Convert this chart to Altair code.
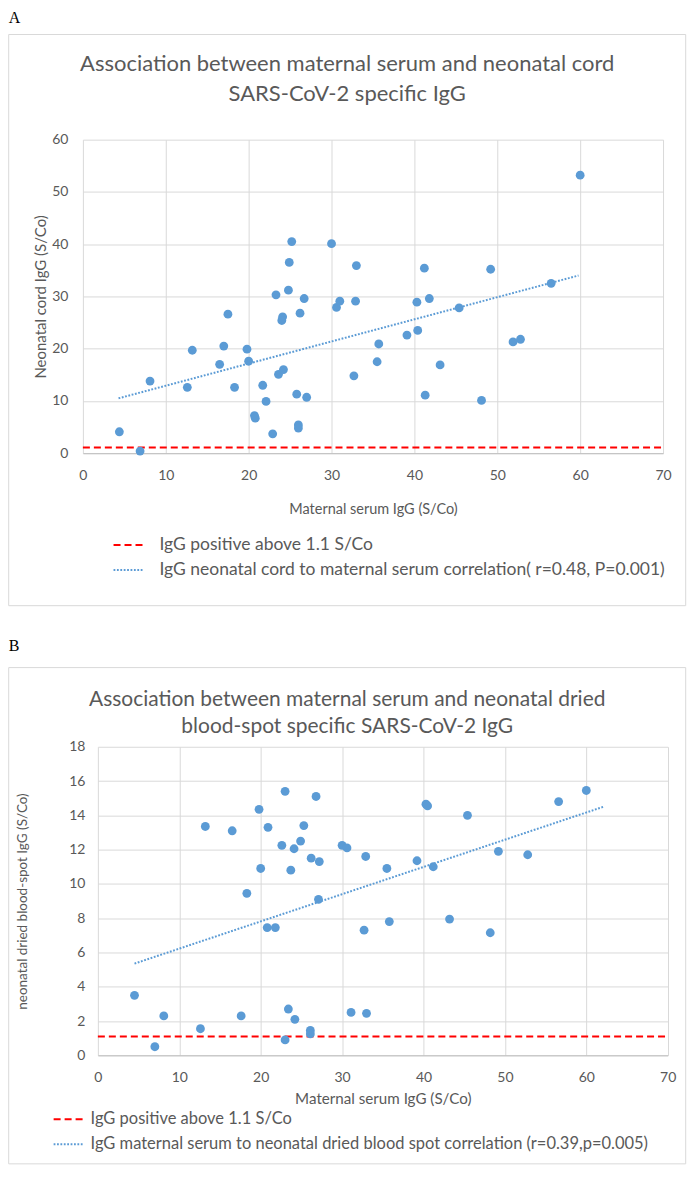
import altair as alt
import pandas as pd

# ---------------- data ----------------
x_ticks = [0, 10, 20, 30, 40, 50, 60, 70]
a_y_ticks = [0, 10, 20, 30, 40, 50, 60]
b_y_ticks = [0, 2, 4, 6, 8, 10, 12, 14, 16, 18]

a_maternal = [4.4, 6.9, 8.1, 12.6, 13.2, 16.5, 17.0, 17.5, 18.3, 19.8,
              20.0, 20.7, 20.8, 21.7, 22.1, 22.9, 23.3, 23.6, 24.2, 24.1,
              24.0, 24.8, 24.9, 25.2, 25.8, 26.0, 26.0, 26.2, 26.7, 27.0,
              30.0, 30.6, 31.0, 32.7, 32.9, 33.0, 35.5, 35.7, 39.1, 40.3,
              40.4, 41.2, 41.3, 41.8, 43.1, 45.4, 48.1, 49.2, 51.9, 52.8,
              56.5, 60.0]
a_cord = [4.1, 0.4, 13.8, 12.6, 19.7, 17.0, 20.5, 26.6, 12.6, 19.9,
          17.6, 7.2, 6.7, 13.0, 9.9, 3.7, 30.3, 15.1, 16.0, 26.1,
          25.4, 31.2, 36.5, 40.5, 11.3, 5.4, 4.8, 26.8, 29.6, 10.7,
          40.1, 27.9, 29.1, 14.8, 29.1, 35.9, 17.5, 20.9, 22.6, 28.9,
          23.5, 35.4, 11.1, 29.6, 16.9, 27.8, 10.1, 35.2, 21.3, 21.8,
          32.5, 53.2]
a_trend_x = [4.3, 59.8]
a_trend_y = [10.5, 34.0]

b_maternal = [4.5, 7.0, 8.1, 12.6, 13.2, 16.5, 17.6, 18.3, 19.8, 20.0,
              20.8, 20.9, 21.8, 22.6, 23.0, 23.0, 23.4, 23.7, 24.1, 24.2,
              24.9, 25.3, 26.1, 26.1, 26.2, 26.8, 27.1, 27.2, 30.0, 30.6,
              31.1, 32.7, 32.9, 33.0, 35.5, 35.8, 39.2, 40.3, 40.5, 41.2,
              43.2, 45.4, 48.2, 49.2, 52.8, 56.6, 60.0]
b_dbs = [3.5, 0.5, 2.3, 1.55, 13.35, 13.1, 2.3, 9.45, 14.35, 10.9,
         7.45, 13.3, 7.45, 12.25, 15.4, 0.9, 2.7, 10.8, 12.05, 2.1,
         12.5, 13.4, 1.45, 1.25, 11.5, 15.1, 9.1, 11.3, 12.25, 12.1,
         2.5, 7.3, 11.6, 2.45, 10.9, 7.8, 11.35, 14.65, 14.55, 11.0,
         7.95, 14.0, 7.15, 11.9, 11.7, 14.8, 15.45]
b_trend_x = [4.5, 62.1]
b_trend_y = [5.35, 14.5]

threshold = 1.1
x_range = [0, 70]

a_title = ["Association between maternal serum and neonatal cord",
           "SARS-CoV-2 specific IgG"]
b_title = ["Association between maternal serum and neonatal dried",
           "blood-spot specific SARS-CoV-2 IgG"]
a_legend = ["IgG positive above 1.1 S/Co",
            "IgG neonatal cord to maternal serum correlation( r=0.48, P=0.001)"]
b_legend = ["IgG positive above 1.1  S/Co",
            "IgG maternal serum to neonatal dried blood spot correlation (r=0.39,p=0.005)"]
x_title = "Maternal serum IgG (S/Co)"
a_y_title = "Neonatal cord IgG (S/Co)"
b_y_title = "neonatal dried blood-spot IgG (S/Co)"

# ---------------- styling ----------------
FONT = "Lato"
TXT = "#595959"
GRID = "#D9D9D9"
BLUE = "#5B9BD5"
RED = "#FF0000"


def one():
    return alt.Data(values=[{}])


def panel(letter, title_lines, title_size, mx, my, tx, ty, labels,
          ytitle, y_ticks, g):
    W, H = g["W"], g["H"]
    pts = pd.DataFrame({"m": mx, "v": my})
    lines = pd.DataFrame({
        "m": x_range + tx,
        "v": [threshold, threshold] + ty,
        "s": [labels[0]] * 2 + [labels[1]] * 2,
    })
    xs = alt.Scale(domain=x_range, nice=False, zero=False, range=g["xr"])
    ys = alt.Scale(domain=[y_ticks[0], y_ticks[-1]], nice=False)
    xaxis = alt.Axis(values=x_ticks, title=x_title, grid=True,
                     labelFontSize=g["tick_fs"], titleFontSize=g["xt_fs"],
                     labelPadding=g["xlab_pad"], labelFlush=False,
                     titleY=g["xtitle_y"], titleBaseline="middle",
                     domain=True, domainColor="#BFBFBF")
    yaxis = alt.Axis(values=y_ticks, title=ytitle, grid=True,
                     labelFontSize=g["tick_fs"], titleFontSize=g["yt_fs"],
                     labelPadding=g["ylab_pad"], labelFlush=False,
                     titleX=g["ytitle_x"], titleBaseline="middle",
                     domain=False)

    frame = alt.Chart(one()).mark_rect(
        fillOpacity=0, stroke=GRID, strokeWidth=1
    ).encode(x=alt.value(g["fx0"]), x2=alt.value(g["fx1"]),
             y=alt.value(g["fy0"]), y2=alt.value(g["fy1"]))

    lab = alt.Chart(one()).mark_text(
        text=letter, font="Liberation Serif", fontSize=16, color="#000000",
        align="left", baseline="top"
    ).encode(x=alt.value(g["fx0"]), y=alt.value(g["ly"]))

    tlayers = []
    for i, t in enumerate(title_lines):
        tlayers.append(alt.Chart(one()).mark_text(
            text=t, font=FONT, fontSize=title_size, color=TXT,
            align="center", baseline="middle"
        ).encode(x=alt.value(g["tx"]), y=alt.value(g["ty"][i])))

    leg = alt.Legend(title=None, orient="none", legendX=g["legx"],
                     legendY=g["legy"], symbolType="stroke",
                     symbolSize=g["sym"], symbolStrokeWidth=2,
                     labelFont=FONT, labelFontSize=g["leg_fs"],
                     labelColor=TXT, labelOffset=g["lab_off"],
                     rowPadding=g["row_pad"], padding=0, labelLimit=800)
    line_layer = alt.Chart(lines).mark_line(strokeWidth=2).encode(
        x=alt.X("m:Q", scale=xs, axis=xaxis),
        y=alt.Y("v:Q", scale=ys, axis=yaxis),
        color=alt.Color("s:N", scale=alt.Scale(domain=labels, range=[RED, BLUE]),
                        legend=leg),
        strokeDash=alt.StrokeDash("s:N", scale=alt.Scale(
            domain=labels, range=[[7, 4], [1.8, 1.6]]), legend=leg),
        detail="s:N",
    )
    point_layer = alt.Chart(pts).mark_circle(size=78, color=BLUE, opacity=1).encode(
        x=alt.X("m:Q", scale=xs, axis=xaxis),
        y=alt.Y("v:Q", scale=ys, axis=yaxis),
    )
    return alt.layer(frame, lab, *tlayers, line_layer, point_layer).properties(
        width=W, height=H)


# panel A: group origin = plot origin at page (82.3, 138.3)
ga = dict(W=581, H=314, xr=[0, 581],
          fx0=-74.3, fx1=603.7, fy0=-105.3, fy1=466.7,
          ly=-130.3, tx=264.7, ty=[-75.3, -45.3],
          tick_fs=14, xt_fs=14.5, yt_fs=15, xlab_pad=15, ylab_pad=15,
          xtitle_y=56, ytitle_x=-42.3,
          legx=29.7, legy=390, sym=900, leg_fs=17.5, lab_off=15, row_pad=-2.5)
# panel B: group origin at page (82.3, 747.3); data area starts 15px further right
gb = dict(W=585.7, H=309, xr=[15, 585.7],
          fx0=-74.3, fx1=603.7, fy0=-79.3, fy1=417.7,
          ly=-109.3, tx=264.7, ty=[-47.3, -19.3],
          tick_fs=14, xt_fs=15.2, yt_fs=13.5, xlab_pad=15, ylab_pad=-2,
          xtitle_y=43, ytitle_x=-60.3,
          legx=-30.3, legy=357, sym=900, leg_fs=16.5, lab_off=6, row_pad=-3)

pa = panel("A", a_title, 22, a_maternal, a_cord, a_trend_x, a_trend_y,
           a_legend, a_y_title, a_y_ticks, ga)
pb = panel("B", b_title, 21, b_maternal, b_dbs, b_trend_x, b_trend_y,
           b_legend, b_y_title, b_y_ticks, gb)

chart = alt.vconcat(pa, pb, spacing=30).resolve_scale(
    x="independent", y="independent", color="independent",
    strokeDash="independent"
).resolve_legend(color="independent", strokeDash="independent").properties(
    padding=0
).configure_view(stroke=None).configure_axis(
    labelFont=FONT, labelColor=TXT, titleFont=FONT, titleColor=TXT,
    titleFontWeight="normal", gridColor=GRID, gridWidth=1,
    ticks=False, tickSize=0
)

chart.save("out.html", embed_options={"renderer": "svg", "actions": False})
